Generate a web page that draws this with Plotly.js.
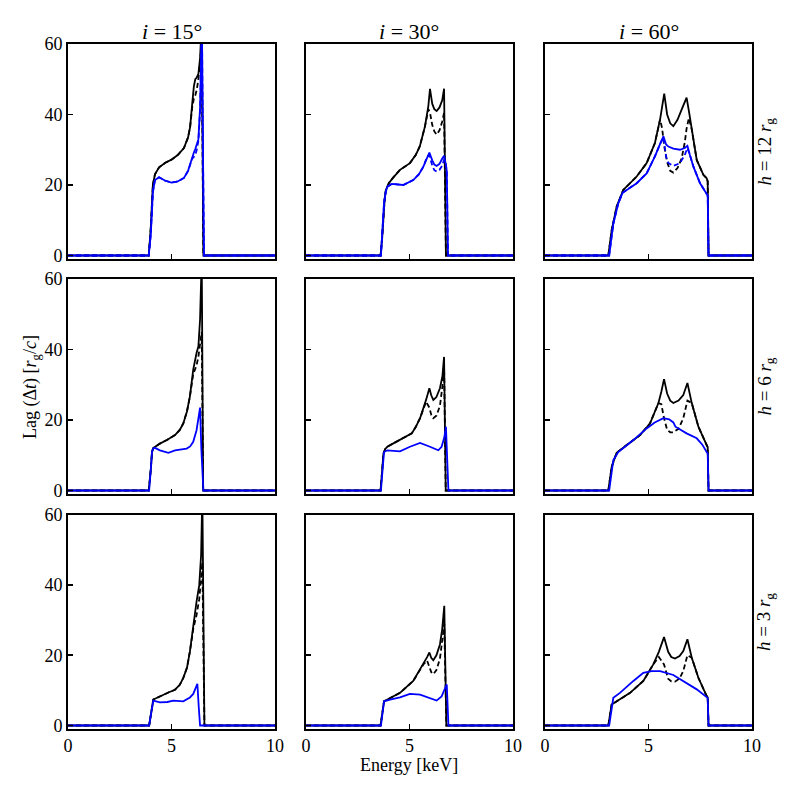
<!DOCTYPE html>
<html>
<head>
<meta charset="utf-8">
<script src="https://cdn.plot.ly/plotly-3.0.1.min.js"></script>
<style>html,body{margin:0;padding:0;background:#fff;}#chart{width:797px;height:797px;}</style>
</head>
<body>
<div id="chart"></div>
<script>
// ---------- data (energy in keV, lag in r_g/c) ----------
const inclinations = ["15", "30", "60"];
const heights = ["12", "6", "3"];
const xTicks = [0, 5, 10];
const yTicks = [0, 20, 40, 60];

// i = 15°, h = 12 r_g
const e_i15_h12_black = [0, 3.9, 4.0, 4.05, 4.1, 4.2, 4.4, 4.7, 5.0, 5.3, 5.6, 5.8, 5.9, 6.0, 6.08, 6.15, 6.22, 6.3, 6.38, 6.46, 6.54, 10];
const lag_i15_h12_black = [0, 0, 8, 16, 20, 23, 25, 26.3, 27.2, 28.5, 30.5, 33.5, 36.5, 43, 48, 50, 50.5, 51.5, 56, 66, 0, 0];
const lag_i15_h12_black_dash = [0, 0, 8, 16, 20, 23, 25, 26.3, 27.2, 28.5, 30.5, 33.5, 36.5, 42, 44.5, 45.5, 47, 50, 55, 60, 0, 0];
const e_i15_h12_blue = [0, 3.9, 4.0, 4.05, 4.1, 4.2, 4.4, 4.7, 5.0, 5.3, 5.6, 5.8, 5.9, 6.0, 6.08, 6.15, 6.22, 6.3, 6.38, 6.47, 6.52, 6.57, 10];
const lag_i15_h12_blue = [0, 0, 6, 13, 18, 21.4, 22.2, 21.2, 20.7, 21, 22, 24, 26, 28, 29.2, 30.2, 31.5, 33, 42, 66, 30, 0, 0];
const lag_i15_h12_blue_dash = [0, 0, 6, 13, 18, 21.4, 22.2, 21.2, 20.7, 21, 22, 24, 26, 27.5, 28, 28.5, 30, 32.5, 41, 66, 30, 0, 0];

// i = 30°, h = 12 r_g
const e_i30_h12_black = [0, 3.6, 3.68, 3.74, 3.8, 3.86, 4.0, 4.2, 4.54, 5.02, 5.3, 5.5, 5.75, 5.91, 5.99, 6.1, 6.2, 6.31, 6.45, 6.58, 6.67, 6.76, 10];
const lag_i30_h12_black = [0, 0, 5, 11.9, 16, 18.6, 20.5, 22, 24.3, 26.2, 28.5, 31, 36.7, 42.4, 47.3, 43, 41.5, 41, 42, 44, 47.3, 0, 0];
const lag_i30_h12_black_dash = [0, 0, 5, 11.9, 16, 18.6, 20.5, 22, 24.3, 26.2, 28.5, 31, 36.7, 41.5, 40.5, 37, 35.2, 34.3, 35.5, 38, 40.5, 0, 0];
const e_i30_h12_blue = [0, 3.62, 3.7, 3.77, 3.85, 3.93, 4.14, 4.4, 4.7, 5.18, 5.45, 5.67, 5.85, 5.96, 6.1, 6.2, 6.31, 6.45, 6.58, 6.67, 6.75, 6.8, 6.86, 10];
const lag_i30_h12_blue = [0, 0, 8, 14.8, 18, 19.5, 20.3, 20.2, 20, 21.4, 23, 25.2, 28, 29.2, 27, 25.8, 25.4, 26, 27.5, 28.3, 26, 24, 0, 0];
const lag_i30_h12_blue_dash = [0, 0, 8, 14.8, 18, 19.5, 20.3, 20.2, 20, 21.4, 23, 25.2, 28, 28.5, 25.5, 24.2, 23.8, 24.3, 25.5, 27.2, 26, 24, 0, 0];

// i = 60°, h = 12 r_g
const e_i60_h12_black = [0, 3.06, 3.22, 3.46, 3.78, 4.1, 4.43, 4.91, 5.31, 5.56, 5.66, 5.76, 5.9, 6.05, 6.2, 6.4, 6.6, 6.75, 6.84, 6.95, 7.09, 7.33, 7.65, 7.81, 7.86, 7.9, 10];
const lag_i60_h12_black = [0, 0, 7.1, 13.8, 18.6, 20.5, 22.4, 26.2, 31.9, 38.6, 42, 45.9, 40, 37.5, 36.7, 38.5, 41.4, 43.5, 44.8, 41, 35.7, 27.1, 22.9, 21.9, 21, 0, 0];
const lag_i60_h12_black_dash = [0, 0, 7.1, 13.8, 18.6, 20.5, 22.4, 26.2, 31.9, 38.6, 36, 31, 26.5, 24, 23.5, 24.8, 27.5, 32, 36, 39, 35.7, 27.1, 22.9, 21.9, 21, 0, 0];
const e_i60_h12_blue = [0, 3.1, 3.3, 3.54, 3.75, 4.1, 4.43, 4.91, 5.31, 5.55, 5.72, 5.85, 5.96, 6.2, 6.52, 6.75, 6.88, 7.0, 7.17, 7.49, 7.81, 7.86, 7.9, 10];
const lag_i60_h12_blue = [0, 0, 9, 14.8, 17.8, 19.3, 20.5, 23.3, 28.1, 31.5, 33.8, 31.5, 30.9, 30.3, 30, 30.5, 31.1, 28.5, 25.2, 20.5, 17.6, 17, 0, 0];
const lag_i60_h12_blue_dash = [0, 0, 9, 14.8, 17.8, 19.3, 20.5, 23.3, 28.1, 31.5, 33.5, 28, 26.2, 25.4, 26.2, 28.5, 30.5, 28.5, 25.2, 20.5, 17.6, 17, 0, 0];

// i = 15°, h = 6 r_g
const e_i15_h6_black = [0, 3.9, 4.0, 4.06, 4.12, 4.44, 4.8, 5.17, 5.4, 5.57, 5.75, 5.89, 6.05, 6.13, 6.21, 6.3, 6.38, 6.46, 6.53, 10];
const lag_i15_h6_black = [0, 0, 6, 11, 12, 13.3, 14.4, 15.7, 17.2, 19, 22.5, 26.7, 34.3, 37.1, 39, 40.9, 48.6, 66, 0, 0];
const lag_i15_h6_black_dash = [0, 0, 6, 11, 12, 13.3, 14.4, 15.7, 17.2, 19, 22.5, 26.7, 33, 34.5, 35.5, 38, 41.5, 45, 0, 0];
const e_i15_h6_blue = [0, 3.92, 4.0, 4.06, 4.12, 4.2, 4.44, 4.85, 5.17, 5.5, 5.73, 5.9, 6.05, 6.21, 6.3, 6.38, 6.44, 6.5, 6.54, 10];
const lag_i15_h6_blue = [0, 0, 6, 11, 11.9, 12.1, 11.4, 10.7, 11.4, 11.6, 11.9, 12.5, 13.8, 17.1, 20, 23.5, 12, 1, 0, 0];

// i = 30°, h = 6 r_g
const e_i30_h6_black = [0, 3.6, 3.67, 3.74, 3.83, 3.93, 4.2, 4.54, 5.11, 5.3, 5.51, 5.8, 5.96, 6.05, 6.15, 6.3, 6.47, 6.59, 6.67, 6.75, 10];
const lag_i30_h6_black = [0, 0, 5, 10.5, 11.8, 12.4, 13.3, 14.3, 16.2, 18, 20.5, 25.7, 29, 27, 25.7, 26.5, 29, 32.4, 37.9, 0, 0];
const lag_i30_h6_black_dash = [0, 0, 5, 10.5, 11.8, 12.4, 13.3, 14.3, 16.2, 18, 20.5, 25.2, 23.5, 21.5, 20.5, 21.2, 24, 29.5, 36, 0, 0];
const e_i30_h6_blue = [0, 3.62, 3.7, 3.77, 3.93, 4.2, 4.54, 5.02, 5.51, 5.99, 6.39, 6.55, 6.68, 6.76, 6.82, 6.88, 10];
const lag_i30_h6_blue = [0, 0, 6, 10.9, 11.4, 11.2, 11.1, 12.4, 13.5, 12.4, 11.4, 12.4, 15, 18.1, 10, 0, 0];

// i = 60°, h = 6 r_g
const e_i60_h6_black = [0, 3.06, 3.22, 3.46, 3.95, 4.59, 5.07, 5.48, 5.62, 5.75, 5.9, 6.05, 6.2, 6.45, 6.68, 6.88, 7.09, 7.41, 7.81, 7.86, 7.9, 10];
const lag_i60_h6_black = [0, 0, 6.7, 10.7, 12.9, 15.7, 19, 24.8, 28, 31.6, 27.5, 25.5, 24.8, 25.5, 27.1, 30.5, 24.8, 18.1, 12.9, 12.3, 0, 0];
const lag_i60_h6_black_dash = [0, 0, 6.7, 10.7, 12.9, 15.7, 19, 24.8, 24.5, 20.5, 17.2, 16.5, 16.5, 17.5, 20.5, 25.5, 24.8, 18.1, 12.9, 12.3, 0, 0];
const e_i60_h6_blue = [0, 3.1, 3.3, 3.54, 4.27, 4.91, 5.3, 5.72, 6.0, 6.2, 6.3, 6.84, 7.33, 7.6, 7.81, 7.86, 7.9, 10];
const lag_i60_h6_blue = [0, 0, 8.6, 10.9, 14.3, 17.6, 19.3, 20.5, 20.2, 19.3, 18.1, 16.2, 14.8, 13, 10.9, 10.5, 0, 0];

// i = 15°, h = 3 r_g
const e_i15_h3_black = [0, 3.92, 4.12, 4.5, 4.85, 5.17, 5.4, 5.57, 5.75, 5.89, 6.05, 6.21, 6.34, 6.43, 6.49, 6.59, 10];
const lag_i15_h3_black = [0, 0, 7.4, 8.5, 9.4, 10.2, 11.6, 13.6, 16.5, 21.1, 28.7, 35.3, 40, 48.6, 66, 0, 0];
const lag_i15_h3_black_dash = [0, 0, 7.4, 8.5, 9.4, 10.2, 11.6, 13.6, 16.5, 21.1, 27.5, 31.5, 36, 42, 46.5, 0, 0];
const e_i15_h3_blue = [0, 3.92, 4.12, 4.44, 4.8, 5.09, 5.57, 5.89, 6.05, 6.25, 6.32, 6.38, 10];
const lag_i15_h3_blue = [0, 0, 7.1, 6.6, 6.7, 7.1, 6.9, 8.0, 9.0, 11.9, 5, 0, 0];

// i = 30°, h = 3 r_g
const e_i30_h3_black = [0, 3.6, 3.77, 4.1, 4.54, 5.18, 5.67, 5.85, 5.96, 6.05, 6.15, 6.3, 6.47, 6.58, 6.68, 6.78, 10];
const lag_i30_h3_black = [0, 0, 6.9, 7.9, 9.3, 12.7, 17.4, 19.5, 20.8, 19.3, 18.6, 20, 23.1, 27.5, 34.1, 0, 0];
const lag_i30_h3_black_dash = [0, 0, 6.9, 7.9, 9.3, 12.7, 17.4, 18.5, 16.5, 15.2, 14.6, 15.8, 19, 25, 29, 0, 0];
const e_i30_h3_blue = [0, 3.62, 3.77, 4.06, 4.54, 5.02, 5.51, 5.99, 6.31, 6.55, 6.8, 6.84, 6.88, 10];
const lag_i30_h3_blue = [0, 0, 6.9, 7.4, 8.0, 9.0, 8.8, 7.8, 7.1, 8.3, 11.7, 6, 0, 0];

// i = 60°, h = 3 r_g
const e_i60_h3_black = [0, 3.06, 3.22, 3.46, 4.11, 4.75, 5.23, 5.5, 5.75, 5.95, 6.1, 6.28, 6.5, 6.68, 6.88, 7.09, 7.41, 7.81, 7.86, 7.9, 10];
const lag_i60_h3_black = [0, 0, 6, 6.9, 9.3, 12.7, 17.4, 21, 25.2, 21, 19.5, 19.1, 19.8, 21.2, 24.6, 19.3, 13.6, 8.4, 8, 0, 0];
const lag_i60_h3_black_dash = [0, 0, 6, 6.9, 9.3, 12.7, 17.4, 19.5, 17.4, 13.3, 12.6, 12.5, 13.4, 15.5, 20, 19.3, 13.6, 8.4, 8, 0, 0];
const e_i60_h3_blue = [0, 3.1, 3.3, 3.62, 4.27, 4.75, 5.15, 5.56, 6.2, 6.84, 7.33, 7.81, 7.86, 7.9, 10];
const lag_i60_h3_blue = [0, 0, 7.9, 9.3, 12.7, 15.0, 15.5, 15.5, 14.4, 12.2, 10.3, 8.1, 7.8, 0, 0];

// ---------- build ----------
const panels = [
  [ // h = 12
    {kx: e_i15_h12_black, k: lag_i15_h12_black, kd: lag_i15_h12_black_dash, bx: e_i15_h12_blue, b: lag_i15_h12_blue, bd: lag_i15_h12_blue_dash},
    {kx: e_i30_h12_black, k: lag_i30_h12_black, kd: lag_i30_h12_black_dash, bx: e_i30_h12_blue, b: lag_i30_h12_blue, bd: lag_i30_h12_blue_dash},
    {kx: e_i60_h12_black, k: lag_i60_h12_black, kd: lag_i60_h12_black_dash, bx: e_i60_h12_blue, b: lag_i60_h12_blue, bd: lag_i60_h12_blue_dash}
  ],
  [ // h = 6
    {kx: e_i15_h6_black, k: lag_i15_h6_black, kd: lag_i15_h6_black_dash, bx: e_i15_h6_blue, b: lag_i15_h6_blue},
    {kx: e_i30_h6_black, k: lag_i30_h6_black, kd: lag_i30_h6_black_dash, bx: e_i30_h6_blue, b: lag_i30_h6_blue},
    {kx: e_i60_h6_black, k: lag_i60_h6_black, kd: lag_i60_h6_black_dash, bx: e_i60_h6_blue, b: lag_i60_h6_blue}
  ],
  [ // h = 3
    {kx: e_i15_h3_black, k: lag_i15_h3_black, kd: lag_i15_h3_black_dash, bx: e_i15_h3_blue, b: lag_i15_h3_blue},
    {kx: e_i30_h3_black, k: lag_i30_h3_black, kd: lag_i30_h3_black_dash, bx: e_i30_h3_blue, b: lag_i30_h3_blue},
    {kx: e_i60_h3_black, k: lag_i60_h3_black, kd: lag_i60_h3_black_dash, bx: e_i60_h3_blue, b: lag_i60_h3_blue}
  ]
];

const W = 797, H = 797;
const colPx = [[68, 275], [306, 513], [545, 752]];
const rowPx = [[44, 259], [279, 494], [515, 729]];
const FONT = "Liberation Serif, DejaVu Serif, serif";
const LW = 1.8;
const DASH = "5px,3px";

const data = [];
const layout = {
  width: W, height: H,
  margin: {l: 0, r: 0, t: 0, b: 0},
  paper_bgcolor: "#fff", plot_bgcolor: "#fff",
  showlegend: false,
  font: {family: FONT, size: 18, color: "#000"},
  annotations: []
};

for (let r = 0; r < 3; r++) {
  for (let c = 0; c < 3; c++) {
    const n = r * 3 + c + 1;
    const xa = n === 1 ? "x" : "x" + n;
    const ya = n === 1 ? "y" : "y" + n;
    const p = panels[r][c];
    const common = {xaxis: xa, yaxis: ya, mode: "lines", hoverinfo: "skip"};
    data.push(Object.assign({x: p.kx, y: p.kd, line: {color: "#000", width: LW, dash: DASH}}, common));
    data.push(Object.assign({x: p.kx, y: p.k, line: {color: "#000", width: LW}}, common));
    if (p.bd) data.push(Object.assign({x: p.bx, y: p.bd, line: {color: "#0000ff", width: LW, dash: DASH}}, common));
    data.push(Object.assign({x: p.bx, y: p.b, line: {color: "#0000ff", width: LW}}, common));

    const axBase = {showgrid: false, zeroline: false, showline: true, mirror: true,
      linecolor: "#000", linewidth: 1.8, ticks: "inside", ticklen: 5, tickwidth: 1.8,
      tickcolor: "#000", tickfont: {family: FONT, size: 18, color: "#000"}, fixedrange: true};
    layout["xaxis" + (n === 1 ? "" : n)] = Object.assign({}, axBase, {
      domain: [colPx[c][0] / W, colPx[c][1] / W], anchor: ya,
      range: [0, 10], tickvals: xTicks, ticktext: xTicks.map(String),
      showticklabels: r === 2
    });
    layout["yaxis" + (n === 1 ? "" : n)] = Object.assign({}, axBase, {
      domain: [1 - rowPx[r][1] / H, 1 - rowPx[r][0] / H], anchor: xa,
      range: [-1, 60], tickvals: yTicks, ticktext: yTicks.map(String),
      showticklabels: c === 0
    });
  }
}

// column titles
for (let c = 0; c < 3; c++) {
  layout.annotations.push({
    xref: "paper", yref: "paper", x: (colPx[c][0] + colPx[c][1]) / 2 / W, y: 1 - 32 / H,
    text: "<i>i</i> = " + inclinations[c] + "°", showarrow: false,
    font: {family: FONT, size: 22, color: "#000"}, xanchor: "center", yanchor: "middle"
  });
}
// row labels
for (let r = 0; r < 3; r++) {
  layout.annotations.push({
    xref: "paper", yref: "paper", x: 765 / W, y: 1 - (rowPx[r][0] + rowPx[r][1]) / 2 / H,
    text: "<i>h</i> = " + heights[r] + " <i>r</i><sub>g</sub>", showarrow: false, textangle: -90,
    font: {family: FONT, size: 19, color: "#000"}, xanchor: "center", yanchor: "middle"
  });
}
// axis labels
layout.annotations.push({
  xref: "paper", yref: "paper", x: 31 / W, y: 1 - 387 / H,
  text: "Lag (Δ<i>t</i>) [<i>r</i><sub>g</sub>/<i>c</i>]", showarrow: false, textangle: -90,
  font: {family: FONT, size: 18, color: "#000"}, xanchor: "center", yanchor: "middle"
});
layout.annotations.push({
  xref: "paper", yref: "paper", x: 409 / W, y: 1 - 765 / H,
  text: "Energy [keV]", showarrow: false,
  font: {family: FONT, size: 18, color: "#000"}, xanchor: "center", yanchor: "middle"
});

Plotly.newPlot("chart", data, layout, {staticPlot: true, displayModeBar: false});
</script>
</body>
</html>
